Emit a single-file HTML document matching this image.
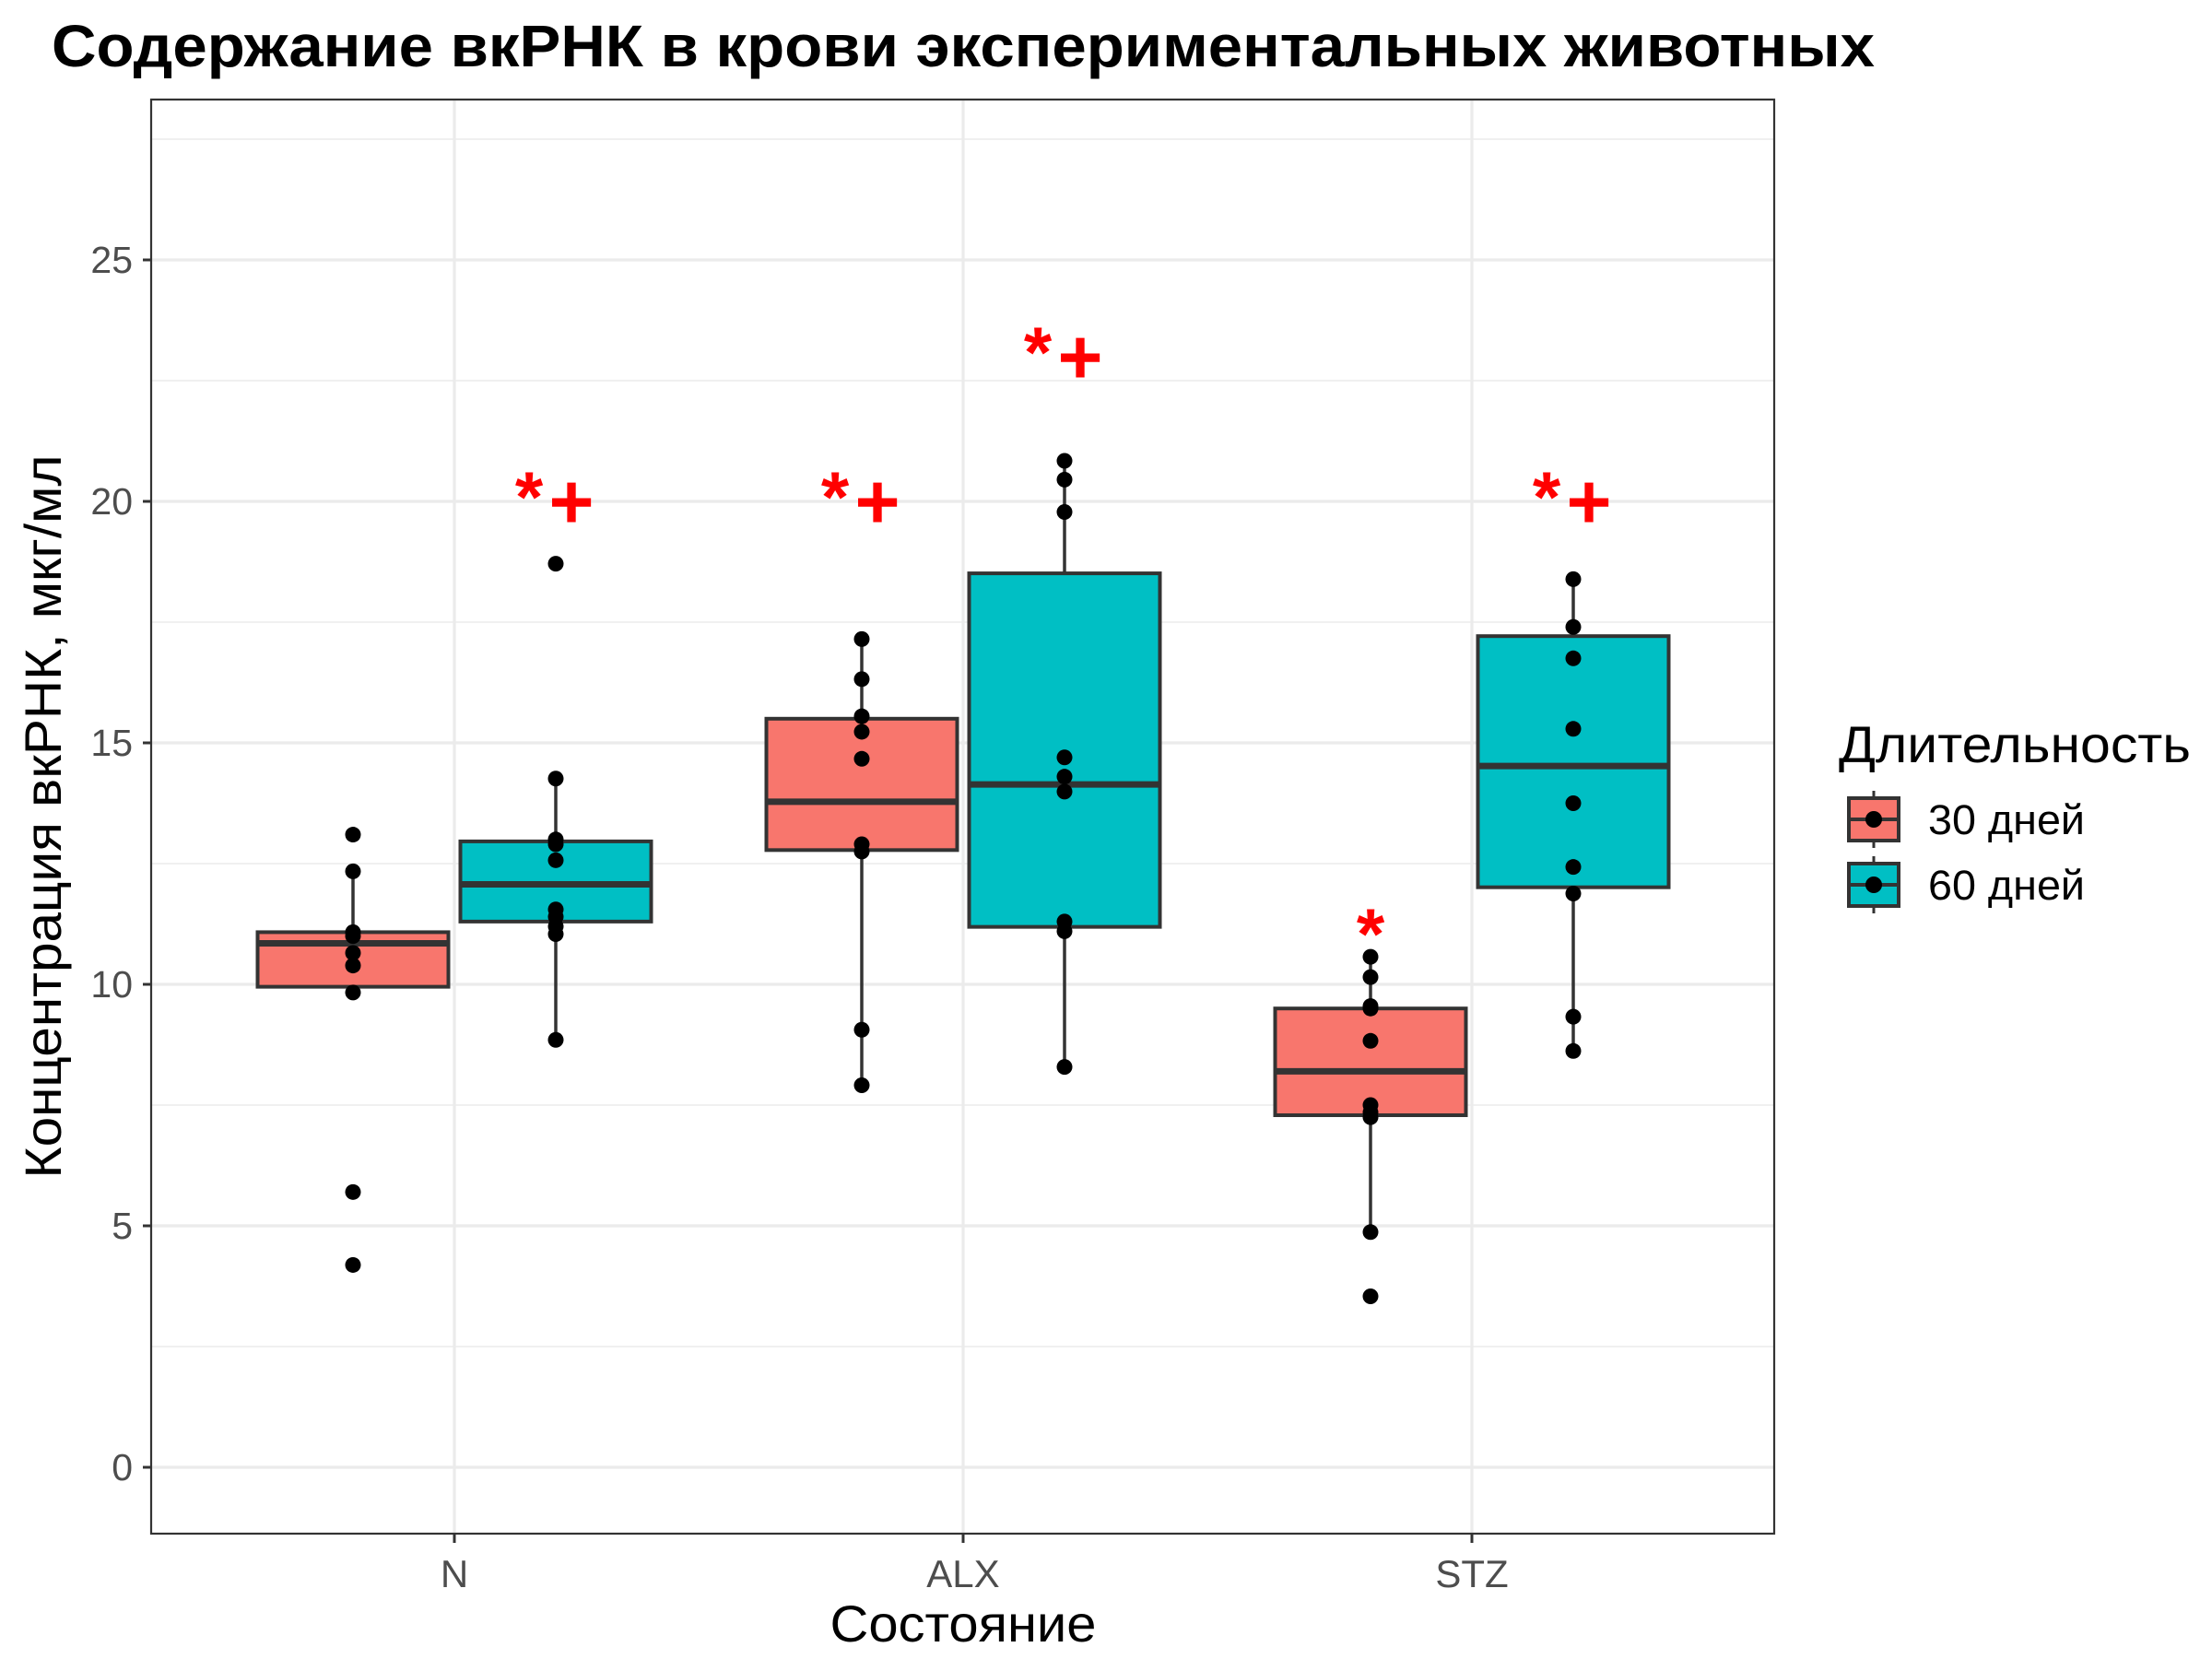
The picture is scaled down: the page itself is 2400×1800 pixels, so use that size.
<!DOCTYPE html>
<html><head><meta charset="utf-8"><style>
html,body{margin:0;padding:0;background:#fff;}
svg{display:block;font-family:"Liberation Sans",Arial,sans-serif;}
</style></head><body>
<svg id="chart" width="2400" height="1800" viewBox="0 0 2400 1800" xmlns="http://www.w3.org/2000/svg">
<text x="56" y="72" font-size="64" font-weight="bold" fill="#000" textLength="1978" lengthAdjust="spacingAndGlyphs">Содержание вкРНК в крови экспериментальных животных</text>
<g id="grid"></g>
<g id="boxes"></g>
<g id="marks"></g>
<rect x="164" y="108" width="1761" height="1556" fill="none" stroke="#333" stroke-width="2.2"/>
<g id="axes"></g>
<text x="1045" y="1781" font-size="56" text-anchor="middle" fill="#000" textLength="289" lengthAdjust="spacingAndGlyphs">Состояние</text>
<text transform="translate(66,886) rotate(-90)" font-size="56" text-anchor="middle" fill="#000" textLength="785" lengthAdjust="spacingAndGlyphs">Концентрация вкРНК, мкг/мл</text>
<g>
<text x="1995" y="827" font-size="56" fill="#000" textLength="382" lengthAdjust="spacingAndGlyphs">Длительность</text>
<g>
<line x1="2033" y1="858" x2="2033" y2="920" stroke="#333" stroke-width="3"/>
<rect x="2006" y="866" width="54" height="46" fill="#F8766D" stroke="#333" stroke-width="4"/>
<line x1="2006" y1="889" x2="2060" y2="889" stroke="#333" stroke-width="4"/>
<circle cx="2033" cy="889" r="9" fill="#000"/>
<text x="2092" y="905" font-size="45" fill="#000" textLength="170" lengthAdjust="spacingAndGlyphs">30 дней</text>
</g>
<g>
<line x1="2033" y1="929" x2="2033" y2="991" stroke="#333" stroke-width="3"/>
<rect x="2006" y="937" width="54" height="46" fill="#00BFC4" stroke="#333" stroke-width="4"/>
<line x1="2006" y1="960" x2="2060" y2="960" stroke="#333" stroke-width="4"/>
<circle cx="2033" cy="960" r="9" fill="#000"/>
<text x="2092" y="976" font-size="45" fill="#000" textLength="170" lengthAdjust="spacingAndGlyphs">60 дней</text>
</g>
</g>
</svg>
<script>
const categories = ["N","ALX","STZ"];
const groups = ["30 дней","60 дней"];
const fills = ["#F8766D","#00BFC4"];
// box stats per [category][group]
const q1 = [[9.95,11.30],[12.78,11.19],[7.29,12.01]];
const med = [[10.85,12.07],[13.78,14.14],[8.20,14.52]];
const q3 = [[11.08,12.96],[15.50,18.51],[9.50,17.21]];
const whiskLow = [[9.83,8.85],[7.91,8.29],[4.87,8.62]];
const whiskHigh = [[12.34,14.26],[17.15,20.84],[10.57,18.39]];
const pointsN30 = [13.1,12.34,11.08,11.0,10.65,10.39,9.83,5.70,4.19];
const pointsN60 = [18.71,14.26,13.0,12.9,12.57,11.55,11.4,11.2,11.04,8.85];
const pointsALX30 = [17.15,16.32,15.55,15.23,14.67,12.9,12.75,9.06,7.91];
const pointsALX60 = [20.84,20.45,19.78,14.7,14.3,13.99,11.3,11.1,8.29];
const pointsSTZ30 = [10.57,10.15,9.55,9.5,8.83,7.5,7.35,7.25,4.87,3.54];
const pointsSTZ60 = [18.39,17.4,16.75,15.29,13.75,12.43,11.88,9.33,8.62];
const points = [[pointsN30,pointsN60],[pointsALX30,pointsALX60],[pointsSTZ30,pointsSTZ60]];
const annoText = [["","*+"],["*+","*+"],["*","*+"]];
const annoY = [[0,20],[20,23],[11.3,20]];
const yTicks = [0,5,10,15,20,25];
const yMinor = [2.5,7.5,12.5,17.5,22.5,27.5];

const NS="http://www.w3.org/2000/svg";
const X0=164,X1=1925,Y0=108,Y1=1664;
function yS(v){return 1592 - v*52.4;}
function xS(i){return 493 + i*552;}
function dodge(i,g){return xS(i) + (g===0?-110:110);}
const BW=207;
function mk(tag,attrs,parent){const e=document.createElementNS(NS,tag);for(const k in attrs)e.setAttribute(k,attrs[k]);parent.appendChild(e);return e;}
const grid=document.getElementById('grid'),boxes=document.getElementById('boxes'),marks=document.getElementById('marks'),axes=document.getElementById('axes');
yMinor.forEach(v=>{const l=mk('line',{x1:X0,x2:X1,y1:yS(v),y2:yS(v),stroke:'#ebebeb','stroke-width':1.6},grid);

});
yTicks.forEach(v=>{const l=mk('line',{x1:X0,x2:X1,y1:yS(v),y2:yS(v),stroke:'#ebebeb','stroke-width':3.2},grid);


const t=mk('line',{x1:X0-9,x2:X0,y1:yS(v),y2:yS(v),stroke:'#333','stroke-width':3},axes);


const tx=mk('text',{x:X0-20,y:yS(v)+14,'font-size':41,'text-anchor':'end',fill:'#4d4d4d'},axes);tx.textContent=v;

});
categories.forEach((c,i)=>{const l=mk('line',{x1:xS(i),x2:xS(i),y1:Y0,y2:Y1,stroke:'#ebebeb','stroke-width':3.2},grid);


const t=mk('line',{x1:xS(i),x2:xS(i),y1:Y1,y2:Y1+10,stroke:'#333','stroke-width':3},axes);


const tx=mk('text',{x:xS(i),y:1722,'font-size':42,'text-anchor':'middle',fill:'#4d4d4d'},axes);tx.textContent=c;

});
categories.forEach((c,i)=>{groups.forEach((gname,g)=>{
 const cx=dodge(i,g);
 const grp=mk('g',{},boxes);
 
 
 mk('line',{x1:cx,x2:cx,y1:yS(whiskHigh[i][g]),y2:yS(q3[i][g]),stroke:'#333','stroke-width':3.5},grp);
 mk('line',{x1:cx,x2:cx,y1:yS(q1[i][g]),y2:yS(whiskLow[i][g]),stroke:'#333','stroke-width':3.5},grp);
 mk('rect',{x:cx-BW/2,y:yS(q3[i][g]),width:BW,height:yS(q1[i][g])-yS(q3[i][g]),fill:fills[g],stroke:'#333','stroke-width':4},grp);
 mk('line',{x1:cx-BW/2,x2:cx+BW/2,y1:yS(med[i][g]),y2:yS(med[i][g]),stroke:'#333','stroke-width':7},grp);
 points[i][g].forEach(v=>{const p=mk('circle',{cx:cx,cy:yS(v),r:8.5,fill:'#000'},grp);
 
 });
 const s=annoText[i][g];
 if(s){const ay=yS(annoY[i][g]);
  if(s.indexOf('*')>=0){const st=mk('text',{x:cx-(s.length>1?29:0),y:ay+(s.length>1?22:40),'font-size':78,'font-weight':'bold','text-anchor':'middle',fill:'#ff0000'},marks);st.textContent='*';
   
   }
  if(s.indexOf('+')>=0){const pl=mk('text',{x:cx+17,y:ay+29,'font-size':84,'font-weight':'bold','text-anchor':'middle',fill:'#ff0000'},marks);pl.textContent='+';
   
   }
 }
});});
</script>
</body></html>
